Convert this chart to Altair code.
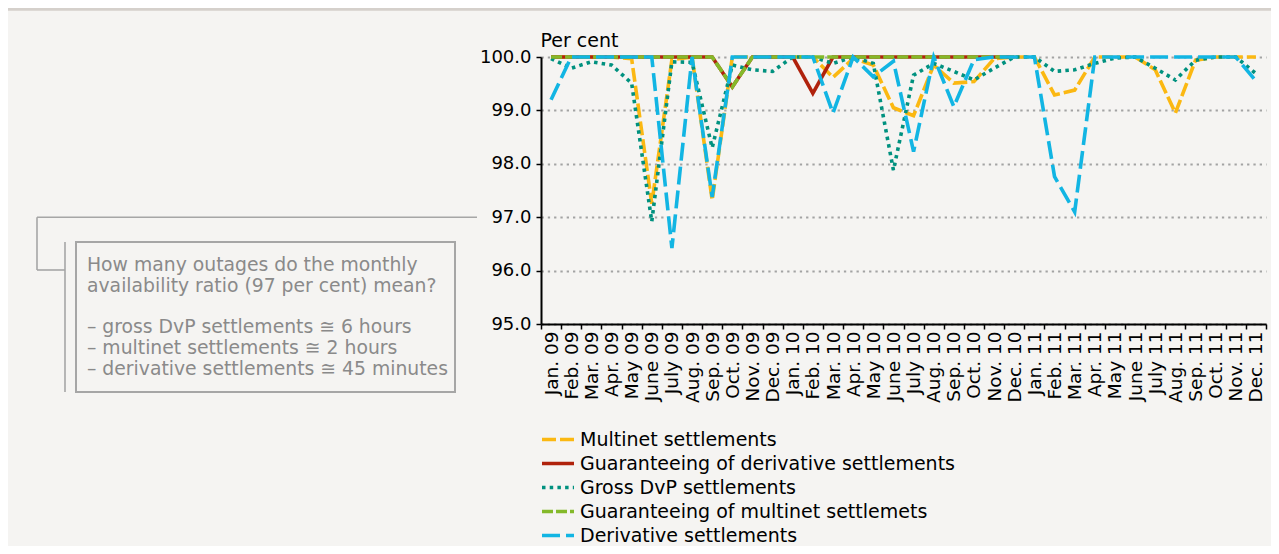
import altair as alt
import pandas as pd

# ---------------- data ----------------
month_names = ["Jan.", "Feb.", "Mar.", "Apr.", "May", "June", "July", "Aug.", "Sep.", "Oct.", "Nov.", "Dec."]
years = ["09", "10", "11"]
months = [f"{m} {y}" for y in years for m in month_names]

series_names = [
    "Multinet settlements",
    "Guaranteeing of derivative settlements",
    "Gross DvP settlements",
    "Guaranteeing of multinet settlemets",
    "Derivative settlements",
]

multinet = [100.0, 100.0, 100.0, 100.0, 99.97, 97.25, 99.95, 100.0, 97.32, 100.0, 100.0, 100.0,
            100.0, 100.0, 99.62, 99.97, 99.85, 99.05, 98.9, 99.85, 99.51, 99.54, 99.97, 100.0,
            100.0, 99.29, 99.38, 100.0, 100.0, 100.0, 99.76, 98.95, 99.94, 100.0, 100.0, 100.0]

guar_derivative = [100.0, 100.0, 100.0, 100.0, 100.0, 100.0, 100.0, 100.0, 100.0, 99.44, 100.0, 100.0,
                   100.0, 99.32, 100.0, 100.0, 100.0, 100.0, 100.0, 100.0, 100.0, 100.0, 100.0, 100.0]

gross_dvp = [99.97, 99.79, 99.91, 99.85, 99.51, 96.92, 99.91, 99.9, 98.3, 99.85, 99.76, 99.73,
             100.0, 100.0, 99.88, 100.0, 99.88, 97.88, 99.66, 99.88, 99.73, 99.57, 99.79, 100.0,
             100.0, 99.73, 99.76, 99.88, 99.98, 100.0, 99.79, 99.57, 99.94, 100.0, 100.0, 99.69]

guar_multinet = [100.0, 100.0, 100.0, 100.0, 100.0, 100.0, 100.0, 100.0, 100.0, 99.44, 100.0, 100.0,
                 100.0, 100.0, 100.0, 100.0, 100.0, 100.0, 100.0, 100.0, 100.0, 100.0, 100.0, 100.0]

derivative = [99.2, 100.0, 100.0, 100.0, 100.0, 100.0, 96.42, 100.0, 97.38, 100.0, 100.0, 100.0,
              100.0, 100.0, 98.95, 100.0, 99.63, 99.92, 98.23, 100.0, 99.07, 99.95, 100.0, 100.0,
              100.0, 97.76, 97.1, 100.0, 100.0, 100.0, 100.0, 100.0, 100.0, 100.0, 100.0, 99.55]

series_values = [multinet, guar_derivative, gross_dvp, guar_multinet, derivative]
series_colors = ["#FBB812", "#B0220C", "#00917F", "#84B92A", "#12B5E3"]
series_dashes = [[14, 4], [1, 0], [3.5, 4.2], [11, 3], [18, 6]]

y_ticks = [95, 96, 97, 98, 99, 100]

note_question = [
    "How many outages do the monthly",
    "availability ratio (97 per cent) mean?",
]
note_answers = [
    "\u2013 gross DvP settlements \u2245 6 hours",
    "\u2013 multinet settlements \u2245 2 hours",
    "\u2013 derivative settlements \u2245 45 minutes",
]

rows = []
for name, vals in zip(series_names, series_values):
    for i, v in enumerate(vals):
        rows.append({"month": months[i], "series": name, "value": v})
df = pd.DataFrame(rows)

# ---------------- chart ----------------
x_enc = alt.X(
    "month:N",
    scale=alt.Scale(type="band", domain=months, paddingInner=0, paddingOuter=0),
    axis=alt.Axis(
        title=None, labelAngle=270, labelFontSize=18.5, labelColor="#000000",
        tickBand="extent", tickColor="#000000", tickSize=5, tickWidth=1.5,
        domainColor="#000000", domainWidth=2, labelPadding=2, grid=False,
    ),
)
y_enc = alt.Y(
    "value:Q",
    scale=alt.Scale(domain=[95, 100], nice=False, zero=False),
    axis=alt.Axis(
        values=y_ticks, format=".1f", labelFontSize=18, labelColor="#000000",
        tickColor="#000000", tickSize=5, tickWidth=1.5, labelPadding=5,
        domainColor="#000000", domainWidth=2,
        grid=True, gridDash=[2.3, 4], gridColor="#a3a3a3", gridWidth=2,
        title="Per cent", titleAngle=0, titleAlign="left", titleBaseline="alphabetic",
        titleX=-1, titleY=-11, titleFontSize=19, titleFontWeight="normal", titleColor="#000000",
    ),
)
color_enc = alt.Color(
    "series:N",
    scale=alt.Scale(domain=series_names, range=series_colors),
    legend=alt.Legend(
        orient="none", legendX=-1, legendY=371.5, direction="vertical", title=None,
        labelFontSize=19, labelColor="#000000", labelLimit=0, symbolSize=1024,
        symbolStrokeWidth=3.5, symbolType="stroke", labelOffset=4,
        clipHeight=22, rowPadding=2, padding=0,
    ),
)
dash_enc = alt.StrokeDash(
    "series:N",
    scale=alt.Scale(domain=series_names, range=series_dashes),
)

base = alt.Chart(df)
line_layers = []
for name in series_names:
    line_layers.append(
        base.transform_filter(alt.datum.series == name)
        .mark_line(strokeWidth=3.6)
        .encode(x=x_enc, y=y_enc, color=color_enc, strokeDash=dash_enc)
    )

one = pd.DataFrame({"k": [0]})

top_band = alt.Chart(one).mark_rect(color="#d5d0cb").encode(
    x=alt.value(-533), x2=alt.value(735), y=alt.value(-49), y2=alt.value(-46.3)
)
rule_style = dict(color="#a6a6a6", strokeWidth=1.6)
conn1 = alt.Chart(one).mark_rule(**rule_style).encode(
    x=alt.value(-504), x2=alt.value(-64), y=alt.datum(97)
)
conn2 = alt.Chart(one).mark_rule(**rule_style).encode(
    x=alt.value(-504), y=alt.datum(97), y2=alt.value(213)
)
conn3 = alt.Chart(one).mark_rule(**rule_style).encode(
    x=alt.value(-504), x2=alt.value(-476), y=alt.value(213)
)
conn4 = alt.Chart(one).mark_rule(**rule_style).encode(
    x=alt.value(-476), y=alt.value(185), y2=alt.value(335)
)
box = alt.Chart(one).mark_rect(fill="transparent", stroke="#a6a6a6", strokeWidth=2).encode(
    x=alt.value(-465), x2=alt.value(-86), y=alt.value(185), y2=alt.value(335)
)
note_style = dict(align="left", baseline="alphabetic", fontSize=18.8, color="#8a8a8a", lineHeight=21)
note1 = alt.Chart(one).mark_text(**note_style).encode(
    x=alt.value(-454), y=alt.value(213.7), text=alt.value(note_question)
)
note2 = alt.Chart(one).mark_text(**note_style).encode(
    x=alt.value(-454), y=alt.value(276.2), text=alt.value(note_answers)
)

chart = alt.layer(
    top_band, conn1, conn2, conn3, conn4, box, note1, note2, *line_layers
).properties(
    width=725, height=267,
    autosize=alt.AutoSizeParams(type="none"),
    padding={"left": 533, "top": 49, "right": 5, "bottom": 222},
    background="#f5f4f2",
).configure(
    font="DejaVu Sans",
).configure_view(
    stroke=None,
)

chart.save("out.html", embed_options={"renderer": "svg", "actions": False})
